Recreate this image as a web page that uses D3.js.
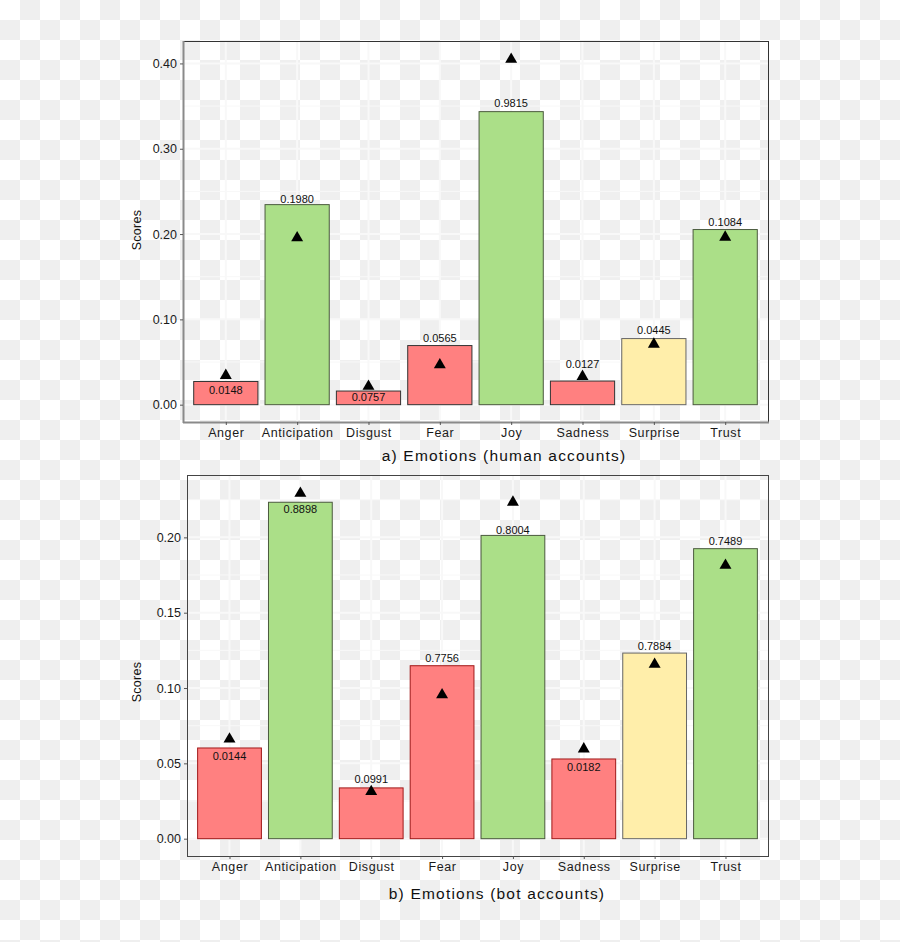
<!DOCTYPE html>
<html>
<head>
<meta charset="utf-8">
<script src="https://cdn.jsdelivr.net/npm/d3@7"></script>
<style>
  html, body { margin: 0; padding: 0; }
  svg { display: block; font-family: "Liberation Sans", Arial, sans-serif; }
</style>
</head>
<body>
<svg id="chart" width="900" height="942"></svg>
<script>
// ---------- data ----------
const categories = ["Anger", "Anticipation", "Disgust", "Fear", "Joy", "Sadness", "Surprise", "Trust"];
const sentiment  = ["neg", "pos", "neg", "neg", "pos", "neg", "neu", "pos"];

const humanScores  = [0.0272, 0.2345, 0.0160, 0.0693, 0.3435, 0.0277, 0.0775, 0.2053];
const humanPoints  = [0.0354, 0.1967, 0.0226, 0.0479, 0.4060, 0.0342, 0.0720, 0.1974];
const humanLabels  = ["0.0148", "0.1980", "0.0757", "0.0565", "0.9815", "0.0127", "0.0445", "0.1084"];
const humanLabelAt = [0.0175, 0.2415, 0.0085, 0.0779, 0.3532, 0.0479, 0.0876, 0.2138];
const humanTicks   = [0.00, 0.10, 0.20, 0.30, 0.40];

const botScores  = [0.0602, 0.2233, 0.0337, 0.1148, 0.2013, 0.0529, 0.1232, 0.1925];
const botPoints  = [0.0668, 0.2299, 0.0319, 0.0961, 0.2240, 0.0602, 0.1164, 0.1821];
const botLabels  = ["0.0144", "0.8898", "0.0991", "0.7756", "0.8004", "0.0182", "0.7884", "0.7489"];
const botLabelAt = [0.0551, 0.2189, 0.0397, 0.1197, 0.2050, 0.0476, 0.1278, 0.1973];
const botTicks   = [0.00, 0.05, 0.10, 0.15, 0.20];

// ---------- styles ----------
const fillColor = { neg: "#ff8080", pos: "#abdf88", neu: "#ffeeaa" };

const svg = d3.select("#chart");

// checkerboard (transparent background look)
const defs = svg.append("defs");
const pat = defs.append("pattern").attr("id", "checker")
  .attr("width", 40).attr("height", 40).attr("patternUnits", "userSpaceOnUse");
pat.append("rect").attr("width", 40).attr("height", 40).attr("fill", "#ffffff");
pat.append("rect").attr("x", 20).attr("y", 0).attr("width", 20).attr("height", 20).attr("fill", "#efefef");
pat.append("rect").attr("x", 0).attr("y", 20).attr("width", 20).attr("height", 20).attr("fill", "#efefef");
svg.append("rect").attr("width", 900).attr("height", 942).attr("fill", "url(#checker)");

function panel(cfg) {
  const { left, right, top, bottom, scores, points, labels, labelAt, ticks, title, titleX, titleGap, scoresY, strokes, leftAxisColor, borderColor } = cfg;
  const g = svg.append("g");

  const maxV = d3.max(scores.concat(points));
  const pad = maxV * 0.05;
  const y = d3.scaleLinear().domain([-pad, maxV + pad]).range([bottom, top]);
  const x = d3.scalePoint().domain(categories).range([left, right]).padding(0.6);
  const bw = x.step() * 0.9;

  // grid: minor
  const minorStep = (ticks[1] - ticks[0]) / 2;
  const minor = ticks.map(t => t + minorStep).filter(v => y(v) > top);
  g.append("g").selectAll("line").data(minor).join("line")
    .attr("x1", left).attr("x2", right)
    .attr("y1", d => y(d)).attr("y2", d => y(d))
    .attr("stroke", "#f8f8f8").attr("stroke-width", 1);
  // grid: major
  g.append("g").selectAll("line").data(ticks).join("line")
    .attr("x1", left).attr("x2", right)
    .attr("y1", d => y(d)).attr("y2", d => y(d))
    .attr("stroke", "#f8f8f8").attr("stroke-width", 2);
  g.append("g").selectAll("line").data(categories).join("line")
    .attr("x1", d => x(d)).attr("x2", d => x(d))
    .attr("y1", top).attr("y2", bottom)
    .attr("stroke", "#f8f8f8").attr("stroke-width", 2);

  // bars
  g.append("g").selectAll("rect").data(categories).join("rect")
    .attr("x", d => x(d) - bw / 2)
    .attr("width", bw)
    .attr("y", (d, i) => y(scores[i]))
    .attr("height", (d, i) => y(0) - y(scores[i]))
    .attr("fill", (d, i) => fillColor[sentiment[i]])
    .attr("stroke", (d, i) => strokes[sentiment[i]])
    .attr("stroke-width", 1);

  // points
  const tri = d3.symbol().type(d3.symbolTriangle).size(62);
  g.append("g").selectAll("path").data(categories).join("path")
    .attr("d", tri)
    .attr("transform", (d, i) => `translate(${x(d)},${y(points[i]) + 1})`)
    .attr("fill", "#000");

  // value labels
  g.append("g").selectAll("text").data(categories).join("text")
    .attr("x", d => x(d))
    .attr("y", (d, i) => y(labelAt[i]))
    .attr("text-anchor", "middle")
    .attr("dominant-baseline", "central")
    .attr("font-size", 11)
    .attr("fill", "#111")
    .text((d, i) => labels[i]);

  // panel border
  g.append("rect").attr("x", left + 0.5).attr("y", top + 0.5)
    .attr("width", right - left).attr("height", bottom - top)
    .attr("fill", "none").attr("stroke", borderColor).attr("stroke-width", 1)
    .attr("shape-rendering", "crispEdges");
  if (leftAxisColor) {
    g.append("line").attr("x1", left + 0.5).attr("x2", left + 0.5).attr("y1", top).attr("y2", bottom + 1)
      .attr("stroke", leftAxisColor).attr("stroke-width", 2);
    g.append("line").attr("x1", left).attr("x2", right + 1).attr("y1", bottom + 0.5).attr("y2", bottom + 0.5)
      .attr("stroke", leftAxisColor).attr("stroke-width", 2);
  }

  // y axis
  const yAxis = d3.axisLeft(y).tickValues(ticks).tickFormat(d3.format(".2f")).tickSize(3).tickPadding(3);
  const ya = g.append("g").attr("transform", `translate(${left},0)`).call(yAxis);
  ya.select(".domain").remove();
  ya.selectAll(".tick line").attr("stroke", "#555");
  ya.selectAll(".tick text").attr("font-size", 12.5).attr("fill", "#1a1a1a")
    .attr("font-family", "Liberation Sans, Arial, sans-serif");

  // x axis
  const xAxis = d3.axisBottom(x).tickSize(3).tickPadding(3);
  const xa = g.append("g").attr("transform", `translate(0,${bottom})`).call(xAxis);
  xa.select(".domain").remove();
  xa.selectAll(".tick line").attr("stroke", "#555");
  xa.selectAll(".tick text").attr("font-size", 12.5).attr("fill", "#1a1a1a")
    .attr("letter-spacing", "0.6px")
    .attr("font-family", "Liberation Sans, Arial, sans-serif");

  // y title
  g.append("text")
    .attr("transform", `translate(137,${scoresY}) rotate(-90)`)
    .attr("text-anchor", "middle").attr("dominant-baseline", "central")
    .attr("font-size", 12.5).attr("letter-spacing", "0.3px").attr("fill", "#111")
    .text("Scores");

  // x title
  g.append("text")
    .attr("x", titleX).attr("y", bottom + titleGap)
    .attr("text-anchor", "middle").attr("dominant-baseline", "central")
    .attr("font-size", 15.5).attr("letter-spacing", "1.2px").attr("fill", "#111")
    .text(title);
}

panel({
  left: 183, right: 768, top: 41, bottom: 422,
  scores: humanScores, points: humanPoints, labels: humanLabels, labelAt: humanLabelAt,
  ticks: humanTicks, title: "a) Emotions (human accounts)", titleX: 504, titleGap: 33, scoresY: 230,
  strokes: { neg: "#333", pos: "#4b5a3e", neu: "#666" },
  leftAxisColor: "#8a8a8a", borderColor: "#333"
});

panel({
  left: 187, right: 768, top: 475, bottom: 856,
  scores: botScores, points: botPoints, labels: botLabels, labelAt: botLabelAt,
  ticks: botTicks, title: "b) Emotions (bot accounts)", titleX: 497, titleGap: 37, scoresY: 682,
  strokes: { neg: "#a01818", pos: "#4b5a3e", neu: "#666" },
  leftAxisColor: null, borderColor: "#444"
});
</script>
</body>
</html>
